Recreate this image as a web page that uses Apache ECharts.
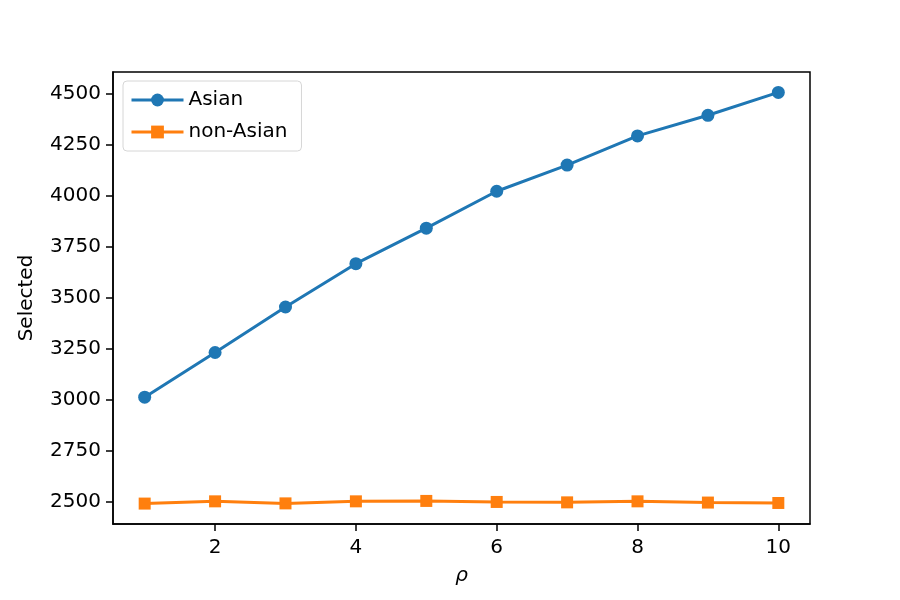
<!DOCTYPE html>
<html>
<head>
<meta charset="utf-8">
<script src="https://cdn.jsdelivr.net/npm/echarts@6/dist/echarts.min.js"></script>
<style>
  html, body { margin: 0; padding: 0; background: #fff; }
  #chart { width: 900px; height: 600px; }
</style>
</head>
<body>
<div id="chart"></div>
<script>
const rhoValues = [1, 2, 3, 4, 5, 6, 7, 8, 9, 10];
const asianSelected = [3013, 3232, 3455, 3667, 3841, 4022, 4150, 4293, 4394, 4506];
const nonAsianSelected = [2492, 2503, 2493, 2503, 2505, 2500, 2498, 2503, 2497, 2495];
const xTicks = [2, 4, 6, 8, 10];
const yTicks = [2500, 2750, 3000, 3250, 3500, 3750, 4000, 4250, 4500];

const FONT = "DejaVu Sans";
const TEXT_COLOR = "#000";

let chart = echarts.init(document.getElementById("chart"));

let option = {
  animation: false,
  textStyle: { fontFamily: FONT, color: TEXT_COLOR },
  grid: {
    left: 113,
    right: 90,
    top: 72,
    bottom: 76,
    show: true,
    borderColor: "#000",
    borderWidth: 1.5,
    backgroundColor: "transparent",
  },
  legend: {
    orient: "vertical",
    left: 123,
    top: 81,
    padding: [9, 14, 9, 7],
    itemWidth: 52,
    itemHeight: 16,
    itemGap: 12,
    borderColor: "#d6d6d6",
    borderWidth: 1,
    borderRadius: 4,
    backgroundColor: "rgba(255,255,255,0.8)",
    lineStyle: { width: 3 },
    textStyle: { fontFamily: FONT, fontSize: 20, color: TEXT_COLOR },
    data: ["Asian", "non-Asian"],
  },
  xAxis: {
    type: "value",
    min: 0.55,
    max: 10.45,
    name: "ρ",
    nameLocation: "middle",
    nameGap: 42,
    nameTextStyle: { fontFamily: FONT, fontSize: 20, fontStyle: "italic", color: TEXT_COLOR },
    splitLine: { show: false },
    axisLine: { show: true, onZero: false, lineStyle: { color: "#000", width: 1.5 } },
    axisTick: { show: true, length: 7, lineStyle: { color: "#000", width: 1.5 }, customValues: xTicks },
    axisLabel: { fontFamily: FONT, fontSize: 20, color: TEXT_COLOR, margin: 14, customValues: xTicks },
  },
  yAxis: {
    type: "value",
    min: 2392,
    max: 4606,
    name: "Selected",
    nameLocation: "middle",
    nameGap: 76,
    nameRotate: 90,
    nameTextStyle: { fontFamily: FONT, fontSize: 20, color: TEXT_COLOR },
    splitLine: { show: false },
    axisLine: { show: true, onZero: false, lineStyle: { color: "#000", width: 1.5 } },
    axisTick: { show: true, length: 7, lineStyle: { color: "#000", width: 1.5 }, customValues: yTicks },
    axisLabel: {
      fontFamily: FONT,
      fontSize: 20,
      color: TEXT_COLOR,
      margin: 12,
      customValues: yTicks,
      formatter: (value) => `${value}`,
    },
  },
  series: [
    {
      name: "Asian",
      type: "line",
      data: rhoValues.map((r, i) => [r, asianSelected[i]]),
      color: "#1f77b4",
      symbol: "circle",
      symbolSize: 13,
      lineStyle: { width: 3 },
      itemStyle: { color: "#1f77b4" },
    },
    {
      name: "non-Asian",
      type: "line",
      data: rhoValues.map((r, i) => [r, nonAsianSelected[i]]),
      color: "#ff7f0e",
      symbol: "rect",
      symbolSize: 12,
      lineStyle: { width: 3 },
      itemStyle: { color: "#ff7f0e" },
    },
  ],
};

option && chart.setOption(option);
</script>
</body>
</html>
